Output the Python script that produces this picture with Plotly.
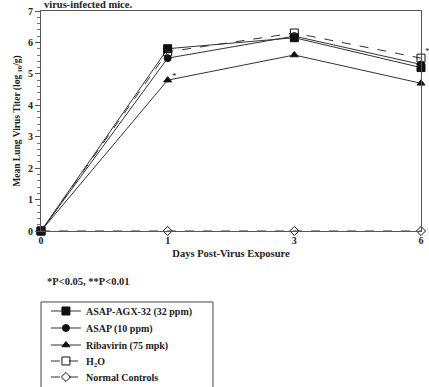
import plotly.graph_objects as go

days = ["0", "1", "3", "6"]
asap_agx = [0, 5.8, 6.15, 5.2]
asap10 = [0, 5.5, 6.2, 5.3]
ribavirin = [0, 4.8, 5.6, 4.7]
h2o = [0, 5.7, 6.3, 5.5]
normal = [0, 0, 0, 0]
y_ticks = [0, 1, 2, 3, 4, 5, 6, 7]

FONT = "Liberation Serif"
fig = go.Figure()

series = [
    ("ASAP-AGX-32 (32 ppm)", asap_agx, "square", "solid"),
    ("ASAP (10 ppm)", asap10, "circle", "solid"),
    ("Ribavirin (75 mpk)", ribavirin, "triangle-up", "solid"),
    ("H<sub>2</sub>O", h2o, "square-open", "dash"),
    ("Normal Controls", normal, "diamond-open", "dash"),
]
legend_ids = ["legend", "legend2", "legend3", "legend4", "legend5"]
for (name, vals, sym, dash), lg in zip(series, legend_ids):
    fig.add_trace(go.Scatter(
        x=days, y=vals, name=name, mode="lines+markers", legend=lg,
        line=dict(color="#333333", width=1, dash=dash),
        marker=dict(symbol=sym, size=8 if "square" in sym else 7, color="#111111",
                    line=dict(color="#111111", width=1)),
        cliponaxis=False,
    ))

# significance marks
for d, v, t in [("1", ribavirin[1], "*"), ("3", ribavirin[2], "*"), ("6", ribavirin[3], "**")]:
    fig.add_annotation(x=d, y=v, text=t, showarrow=False, xanchor="left", yanchor="bottom",
                       xshift=2, yshift=-3, font=dict(family=FONT, size=9, color="#222"))

fig.add_annotation(xref="paper", yref="paper", x=0.003, y=1.0, yanchor="bottom", xanchor="left",
                   text="virus-infected mice.", showarrow=False, yshift=-1,
                   font=dict(family=FONT, size=10.5, color="#222", weight="bold"))
fig.add_annotation(xref="paper", yref="paper", x=0.01, y=-0.195, yanchor="top", xanchor="left",
                   text="*P&lt;0.05, **P&lt;0.01", showarrow=False,
                   font=dict(family=FONT, size=10.5, color="#222", weight="bold"))

# legend frame
fig.add_shape(type="rect", xref="paper", yref="paper", x0=0, x1=0.4526, y0=-0.3227, y1=-0.80,
              line=dict(color="#444", width=1), fillcolor="rgba(0,0,0,0)", layer="above")

legend_y = [-0.3636, -0.4409, -0.5182, -0.5909, -0.6636]
leg_common = dict(x=0.013, xanchor="left", yanchor="middle", borderwidth=0,
                  bgcolor="rgba(0,0,0,0)",
                  font=dict(family=FONT, size=10, color="#222", weight="bold"))

fig.update_layout(
    width=429, height=387,
    margin=dict(l=41, r=8, t=11, b=156, autoexpand=False),
    paper_bgcolor="white", plot_bgcolor="white",
    font=dict(family=FONT, size=10, color="#222"),
    showlegend=True,
    legend=dict(y=legend_y[0], **leg_common),
    legend2=dict(y=legend_y[1], **leg_common),
    legend3=dict(y=legend_y[2], **leg_common),
    legend4=dict(y=legend_y[3], **leg_common),
    legend5=dict(y=legend_y[4], **leg_common),
    xaxis=dict(type="category", range=[0, 3], showgrid=False, zeroline=False,
               showline=True, linecolor="#555", linewidth=1, mirror=True, ticks="",
               tickfont=dict(family=FONT, size=10, color="#222", weight="bold"),
               title=dict(text="Days Post-Virus Exposure", standoff=4,
                          font=dict(family=FONT, size=10.5, weight="bold"))),
    yaxis=dict(range=[0, 7], tickvals=y_ticks, showgrid=False, zeroline=False,
               showline=True, linecolor="#555", linewidth=1, mirror=True,
               ticks="outside", ticklen=5, tickcolor="#555",
               minor=dict(ticks="outside", dtick=0.2, ticklen=3, tickcolor="#777"),
               tickfont=dict(family=FONT, size=10, color="#222", weight="bold"),
               title=dict(text="Mean Lung Virus Titer (log <sub>10</sub>/g)", standoff=5,
                          font=dict(family=FONT, size=9.5, weight="bold"))),
)
fig.write_html("out.html", config={"displayModeBar": False},
               post_script="document.body.style.margin='0';")
